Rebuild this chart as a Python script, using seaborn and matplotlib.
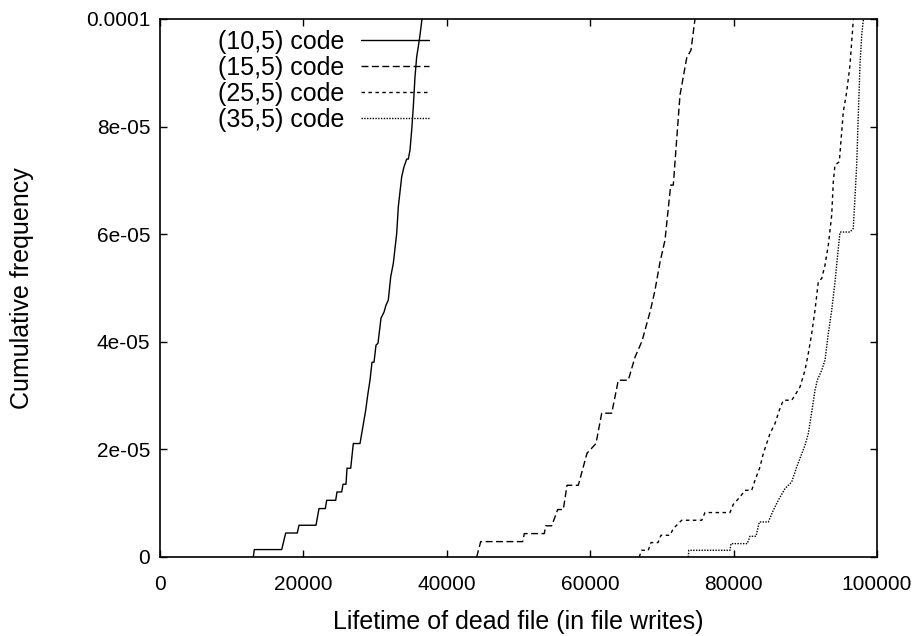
import pandas as pd
import matplotlib
matplotlib.use("Agg")
import matplotlib.pyplot as plt
import seaborn as sns

# Curvas (vértices): tempo de vida x frequência acumulada
codes = ["(10,5) code", "(15,5) code", "(25,5) code", "(35,5) code"]

life_10_5 = [13012, 13152, 16973, 17531, 19149, 19386, 21757, 22176, 23054, 23250,
             24505, 24686, 25342, 25523, 25941, 26081, 26597, 26960, 27894, 28689,
             28968, 29289, 29568, 29847, 30126, 30404, 30823, 31241, 31520, 31841,
             32176, 32539, 33013, 33236, 33710, 34031, 34408, 34631, 34868, 35105,
             35328, 35565, 35802, 36025, 36262, 36541, 36680]
freq_10_5 = [0, 1.38e-6, 1.38e-6, 4.46e-6, 4.46e-6, 5.90e-6, 5.90e-6, 9.00e-6, 9.00e-6, 1.054e-5,
             1.054e-5, 1.209e-5, 1.209e-5, 1.352e-5, 1.352e-5, 1.650e-5, 1.650e-5, 2.109e-5, 2.109e-5, 2.728e-5,
             3.007e-5, 3.286e-5, 3.621e-5, 3.621e-5, 3.937e-5, 3.974e-5, 4.439e-5, 4.551e-5, 4.681e-5, 4.776e-5,
             5.207e-5, 5.457e-5, 6.015e-5, 6.509e-5, 7.067e-5, 7.253e-5, 7.396e-5, 7.396e-5, 7.564e-5, 7.936e-5,
             8.369e-5, 8.927e-5, 9.299e-5, 9.485e-5, 9.70e-5, 1.0e-4, 1.017e-4]

life_15_5 = [44170, 44728, 50586, 50809, 53598, 53794, 54630, 55467, 56248, 56764,
             58340, 59554, 60809, 61604, 62999, 63919, 65314, 66248, 67225, 68410,
             69038, 69735, 70432, 71228, 71589, 72524, 73459, 74058, 74616, 74895]
freq_15_5 = [0, 2.86e-6, 2.86e-6, 4.35e-6, 4.35e-6, 5.80e-6, 5.80e-6, 8.82e-6, 8.82e-6, 1.333e-5,
             1.333e-5, 1.929e-5, 2.109e-5, 2.673e-5, 2.673e-5, 3.286e-5, 3.286e-5, 3.714e-5, 4.012e-5, 4.588e-5,
             4.960e-5, 5.481e-5, 5.890e-5, 6.913e-5, 6.913e-5, 8.587e-5, 9.275e-5, 9.424e-5, 1.0e-4, 1.017e-4]

life_25_5 = [66848, 67155, 68103, 68480, 69456, 69874, 71130, 71590, 72761, 75551,
             76011, 79498, 79958, 80893, 81590, 82525, 82985, 83682, 84142, 85077,
             85774, 86374, 86932, 88102, 88563, 89261, 89958, 90418, 90893, 91353,
             91813, 92288, 92748, 93209, 93683, 93906, 94142, 94742, 95077, 95300,
             95774, 96234, 96471, 96695, 96792]
freq_25_5 = [0, 1.25e-6, 1.25e-6, 2.68e-6, 2.68e-6, 4.04e-6, 4.04e-6, 5.28e-6, 6.83e-6, 6.83e-6,
             8.26e-6, 8.26e-6, 9.80e-6, 1.116e-5, 1.240e-5, 1.240e-5, 1.426e-5, 1.674e-5, 1.923e-5, 2.295e-5,
             2.481e-5, 2.728e-5, 2.914e-5, 2.914e-5, 3.007e-5, 3.162e-5, 3.472e-5, 3.783e-5, 4.155e-5, 4.588e-5,
             5.114e-5, 5.178e-5, 5.425e-5, 5.797e-5, 6.355e-5, 6.974e-5, 7.285e-5, 7.346e-5, 7.904e-5, 8.276e-5,
             8.648e-5, 9.145e-5, 9.578e-5, 9.981e-5, 1.0167e-4]

life_35_5 = [73682, 73752, 79498, 79637, 81911, 82287, 83124, 83585, 84840, 85537,
             86235, 87169, 88102, 88802, 89261, 89958, 90418, 90893, 91353, 91674,
             92288, 92748, 93209, 93683, 94142, 94602, 94840, 96234, 96695, 97167,
             97390, 97629, 97866, 98090, 98187]
freq_35_5 = [0, 1.25e-6, 1.25e-6, 2.49e-6, 2.49e-6, 3.85e-6, 3.85e-6, 6.51e-6, 6.51e-6, 8.69e-6,
             1.054e-5, 1.272e-5, 1.395e-5, 1.674e-5, 1.836e-5, 2.077e-5, 2.295e-5, 2.691e-5, 3.100e-5, 3.286e-5,
             3.472e-5, 3.658e-5, 4.155e-5, 4.588e-5, 5.109e-5, 5.736e-5, 6.04e-5, 6.04e-5, 6.108e-5, 7.285e-5,
             8.215e-5, 9.145e-5, 9.703e-5, 9.981e-5, 1.0167e-4]

x_ticks = [0, 20000, 40000, 60000, 80000, 100000]
x_tick_labels = ["0", "20000", "40000", "60000", "80000", "100000"]
y_ticks = [0, 2e-5, 4e-5, 6e-5, 8e-5, 1e-4]
y_tick_labels = ["0", "2e-05", "4e-05", "6e-05", "8e-05", "0.0001"]


def plotar_cdf_lifetime(output: str = "out.png") -> None:
    series = [(life_10_5, freq_10_5), (life_15_5, freq_15_5),
              (life_25_5, freq_25_5), (life_35_5, freq_35_5)]
    frames = []
    for code, (life, freq) in zip(codes, series):
        frames.append(pd.DataFrame({"lifetime": life, "freq": freq, "code": code}))
    df = pd.concat(frames, ignore_index=True)

    sns.set_style("ticks")
    plt.rcParams["font.family"] = ["Liberation Sans", "DejaVu Sans"]
    plt.rcParams["text.color"] = "black"
    plt.rcParams["axes.labelcolor"] = "black"

    fig = plt.figure(figsize=(9.24, 6.36), dpi=100)
    ax = fig.add_axes([160 / 924, 79 / 636, 717 / 924, 538 / 636])

    dashes = {
        codes[0]: "",
        codes[1]: (5, 2.5),
        codes[2]: (2.5, 2.5),
        codes[3]: (1, 1),
    }
    sns.lineplot(
        data=df, x="lifetime", y="freq", hue="code", style="code",
        palette=["black"] * 4, dashes=dashes, sort=False, estimator=None,
        linewidth=1.0, ax=ax, legend=False,
    )

    ax.set_xlim(0, 100000)
    ax.set_ylim(0, 1e-4)
    ax.set_xticks(x_ticks)
    ax.set_xticklabels(x_tick_labels)
    ax.set_yticks(y_ticks)
    ax.set_yticklabels(y_tick_labels)
    ax.tick_params(direction="in", length=5, width=1, top=True, right=True,
                   labelsize=15, colors="black")
    ax.tick_params(axis="y", pad=7)
    ax.tick_params(axis="x", pad=13)
    for s in ax.spines.values():
        s.set_visible(True)
        s.set_linewidth(1.2)
        s.set_color("black")

    ax.set_xlabel("Lifetime of dead file (in file writes)", fontsize=18, va="center")
    ax.xaxis.set_label_coords(0.5, (557 - 622) / 538)
    ax.set_ylabel("Cumulative frequency", fontsize=18, va="center")
    ax.yaxis.set_label_coords((22 - 160) / 717, 0.5)

    handles = ax.get_lines()[:4]
    ax.legend(
        handles, codes, loc="upper right", bbox_to_anchor=(0.375, 0.98),
        frameon=False, markerfirst=False, handlelength=2.7, handletextpad=0.7,
        labelspacing=0.08, borderpad=0, borderaxespad=0, fontsize=18,
    )

    fig.savefig(output, dpi=100)
    plt.close(fig)


if __name__ == "__main__":
    plotar_cdf_lifetime()
